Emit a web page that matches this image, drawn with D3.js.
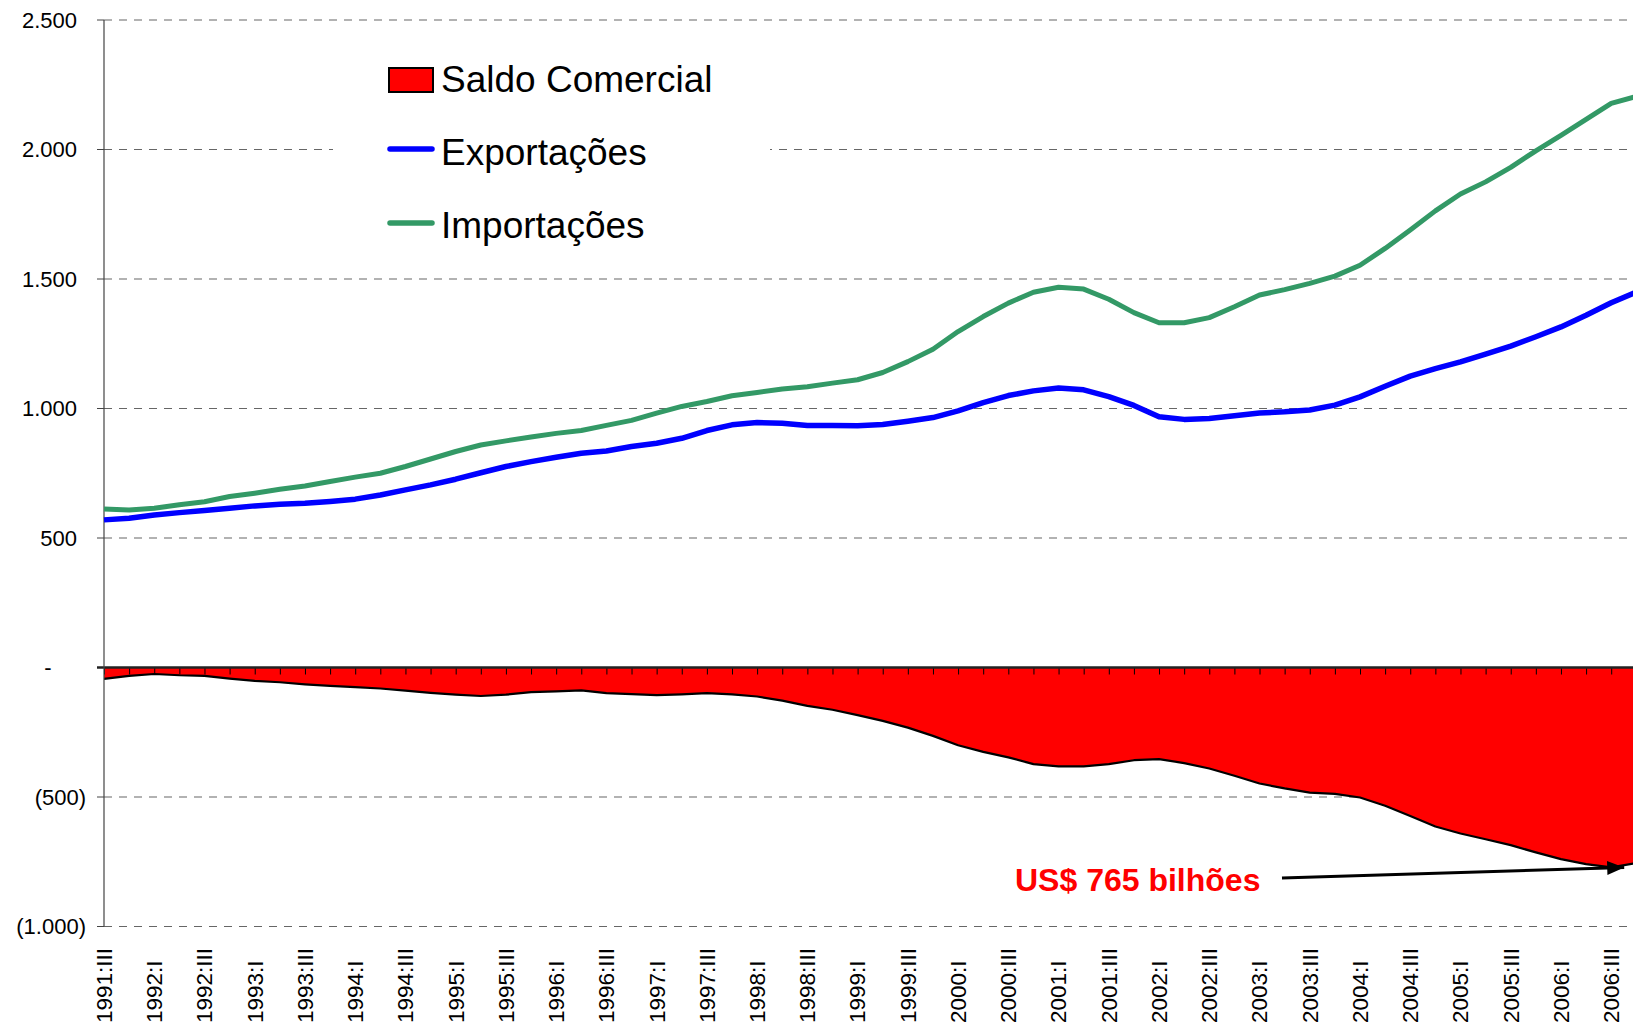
<!DOCTYPE html>
<html>
<head>
<meta charset="utf-8">
<script src="https://cdn.jsdelivr.net/npm/d3@7"></script>
<style>
  html, body { margin: 0; padding: 0; background: #ffffff; }
  svg { display: block; }
  text { font-family: "Liberation Sans", Arial, Helvetica, sans-serif; }
</style>
</head>
<body>
<svg id="chart" width="1633" height="1026"></svg>
<script>
// ---------------- DATA ----------------
const categories = [
  "1991:III","1991:IV",
  "1992:I","1992:II","1992:III","1992:IV",
  "1993:I","1993:II","1993:III","1993:IV",
  "1994:I","1994:II","1994:III","1994:IV",
  "1995:I","1995:II","1995:III","1995:IV",
  "1996:I","1996:II","1996:III","1996:IV",
  "1997:I","1997:II","1997:III","1997:IV",
  "1998:I","1998:II","1998:III","1998:IV",
  "1999:I","1999:II","1999:III","1999:IV",
  "2000:I","2000:II","2000:III","2000:IV",
  "2001:I","2001:II","2001:III","2001:IV",
  "2002:I","2002:II","2002:III","2002:IV",
  "2003:I","2003:II","2003:III","2003:IV",
  "2004:I","2004:II","2004:III","2004:IV",
  "2005:I","2005:II","2005:III","2005:IV",
  "2006:I","2006:II","2006:III","2006:IV"
];

const exportacoes = [
  570, 576,
  589, 598, 606, 615,
  624, 630, 634, 641,
  650, 666, 686, 705,
  727, 752, 776, 795,
  812, 827, 836, 853,
  866, 885, 915, 937,
  946, 943, 934, 934,
  933, 938, 951, 965,
  991, 1023, 1050, 1068,
  1079, 1072, 1046, 1012,
  968, 958, 961, 972,
  983, 987, 994, 1013,
  1045, 1086, 1125, 1154,
  1180, 1210, 1241, 1277,
  1315, 1360, 1408, 1450
];

const importacoes = [
  612, 608,
  615, 628, 640, 660,
  673, 688, 701, 718,
  735, 750, 776, 805,
  834, 859, 875, 890,
  904, 915, 935, 954,
  982, 1008, 1027, 1049,
  1062, 1075, 1084, 1098,
  1111, 1139, 1181, 1229,
  1297, 1355, 1407, 1449,
  1468, 1461, 1422, 1370,
  1331, 1331, 1351, 1393,
  1438, 1459, 1483, 1511,
  1553, 1618, 1689, 1763,
  1828, 1875, 1931, 1995,
  2055, 2116, 2178, 2205
];

const saldo = [
  -44, -32,
  -25, -30, -32, -43,
  -52, -57, -65, -71,
  -76, -81, -89, -98,
  -105, -110, -105, -95,
  -92, -88, -99, -103,
  -107, -104, -99, -104,
  -112, -128, -148, -163,
  -184, -206, -232, -264,
  -300, -326, -347, -373,
  -382, -382, -373, -358,
  -354, -369, -390, -418,
  -448, -467, -483, -488,
  -502, -534, -573, -614,
  -641, -663, -686, -714,
  -740, -759, -772, -755
];

const yTicks = [2500, 2000, 1500, 1000, 500, 0, -500, -1000];
const yTickLabels = ["2.500", "2.000", "1.500", "1.000", "500", "-", "(500)", "(1.000)"];
const legendLabels = ["Saldo Comercial", "Exportações", "Importações"];
const annotationText = "US$ 765 bilhões";
const annotationIndex = 60;

// ---------------- STYLE ----------------
const COLORS = { saldo: "#FF0000", exp: "#0000FF", imp: "#339966", grid: "#666666", axis: "#222" };
const W = 1633, H = 1026;
const LEFT = 104, TOP = 20, BOTTOM = 926.5;
const STEP = 25.12;

const svg = d3.select("#chart");

const x = d3.scalePoint()
  .domain(categories)
  .range([LEFT, LEFT + STEP * (categories.length - 1)]);

const y = d3.scaleLinear()
  .domain([-1000, 2500])
  .range([BOTTOM, TOP]);

// Gridlines (dashed), excluding zero
const grid = svg.append("g");
grid.selectAll("line")
  .data(yTicks.filter(d => d !== 0))
  .join("line")
  .attr("x1", LEFT).attr("x2", W)
  .attr("y1", d => y(d)).attr("y2", d => y(d))
  .attr("stroke", COLORS.grid)
  .attr("stroke-width", 1.1)
  .attr("stroke-dasharray", "8,7");

// Legend white background interrupting gridline
svg.append("rect")
  .attr("x", 333).attr("y", 40)
  .attr("width", 437).attr("height", 215)
  .attr("fill", "#fff");

// Y-axis ticks (left)
svg.append("g").selectAll("line")
  .data(yTicks)
  .join("line")
  .attr("x1", LEFT - 7).attr("x2", LEFT)
  .attr("y1", d => y(d)).attr("y2", d => y(d))
  .attr("stroke", "#444").attr("stroke-width", 1);

// Y tick labels
svg.append("g").selectAll("text")
  .data(yTicks)
  .join("text")
  .attr("x", d => d > 0 ? 77 : (d < 0 ? 86 : 48))
  .attr("y", d => y(d))
  .attr("dy", "0.36em")
  .attr("text-anchor", d => d === 0 ? "middle" : "end")
  .attr("font-size", 22)
  .attr("fill", "#000")
  .text((d, i) => yTickLabels[i]);

// Saldo area
const area = d3.area()
  .x((d, i) => x(categories[i]))
  .y0(y(0))
  .y1(d => y(d));
svg.append("path")
  .datum(saldo)
  .attr("d", area)
  .attr("fill", COLORS.saldo);

const saldoLine = d3.line()
  .x((d, i) => x(categories[i]))
  .y(d => y(d));
svg.append("path")
  .datum(saldo)
  .attr("d", saldoLine)
  .attr("fill", "none")
  .attr("stroke", "#000")
  .attr("stroke-width", 2.2)
  .attr("stroke-linejoin", "round");

// Category axis at zero with tick marks
const xAxis = d3.axisBottom(x).tickSize(7).tickSizeOuter(0).tickFormat("");
const xg = svg.append("g")
  .attr("transform", `translate(0,${y(0)})`)
  .call(xAxis);
xg.select(".domain").remove();
xg.selectAll(".tick line").attr("stroke", "#000").attr("stroke-width", 1);
svg.append("line")
  .attr("x1", LEFT - 7).attr("x2", W)
  .attr("y1", y(0)).attr("y2", y(0))
  .attr("stroke", COLORS.axis).attr("stroke-width", 2.5);

// Y-axis line
svg.append("line")
  .attr("x1", LEFT).attr("x2", LEFT)
  .attr("y1", TOP).attr("y2", BOTTOM)
  .attr("stroke", "#444").attr("stroke-width", 1.2);

// X tick labels (rotated), every other quarter (I and III)
svg.append("g").selectAll("text")
  .data(categories.filter((c, i) => i % 2 === 0))
  .join("text")
  .attr("transform", d => `translate(${x(d)},1023) rotate(-90)`)
  .attr("dy", "0.35em")
  .attr("text-anchor", "start")
  .attr("font-size", 22.5)
  .attr("fill", "#000")
  .text(d => d);

// Lines
const lineGen = d3.line()
  .x((d, i) => x(categories[i]))
  .y(d => y(d));
svg.append("path")
  .datum(importacoes)
  .attr("d", lineGen)
  .attr("fill", "none")
  .attr("stroke", COLORS.imp)
  .attr("stroke-width", 5)
  .attr("stroke-linejoin", "round");
svg.append("path")
  .datum(exportacoes)
  .attr("d", lineGen)
  .attr("fill", "none")
  .attr("stroke", COLORS.exp)
  .attr("stroke-width", 5.5)
  .attr("stroke-linejoin", "round");

// Legend
const lg = svg.append("g");
lg.append("rect")
  .attr("x", 389).attr("y", 68).attr("width", 44).attr("height", 24)
  .attr("fill", COLORS.saldo).attr("stroke", "#000").attr("stroke-width", 2);
lg.append("line")
  .attr("x1", 390).attr("x2", 432).attr("y1", 149).attr("y2", 149)
  .attr("stroke", COLORS.exp).attr("stroke-width", 5.5).attr("stroke-linecap", "round");
lg.append("line")
  .attr("x1", 390).attr("x2", 432).attr("y1", 223).attr("y2", 223)
  .attr("stroke", COLORS.imp).attr("stroke-width", 5.5).attr("stroke-linecap", "round");
lg.selectAll("text.leg")
  .data(legendLabels)
  .join("text")
  .attr("class", "leg")
  .attr("x", 441)
  .attr("y", (d, i) => 92 + i * 73)
  .attr("font-size", 37)
  .attr("fill", "#000")
  .text(d => d);

// Annotation
const defs = svg.append("defs");
defs.append("marker")
  .attr("id", "arrow")
  .attr("markerUnits", "userSpaceOnUse")
  .attr("markerWidth", 18).attr("markerHeight", 14)
  .attr("refX", 17).attr("refY", 7)
  .attr("orient", "auto")
  .append("path")
  .attr("d", "M0,0 L17,7 L0,14 Z")
  .attr("fill", "#000");

svg.append("text")
  .attr("x", 1015).attr("y", 891)
  .attr("font-size", 32)
  .attr("font-weight", "bold")
  .attr("fill", "#FF0000")
  .text(annotationText);

svg.append("line")
  .attr("x1", 1282).attr("y1", 878)
  .attr("x2", x(categories[annotationIndex]) + 13)
  .attr("y2", y(saldo[annotationIndex]))
  .attr("stroke", "#000")
  .attr("stroke-width", 3)
  .attr("marker-end", "url(#arrow)");
</script>
</body>
</html>
